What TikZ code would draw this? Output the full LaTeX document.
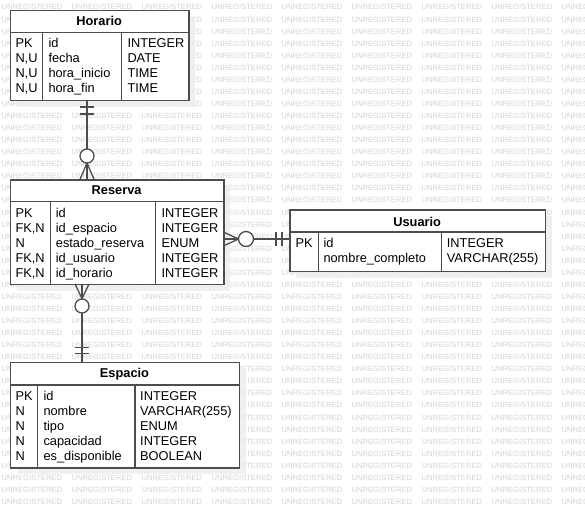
\documentclass[tikz,border=0pt]{standalone}
\usepackage{fontspec}
\setmainfont{Liberation Sans}
\definecolor{edge}{HTML}{4D4D4D}
\definecolor{mark}{HTML}{D2D2D2}
\definecolor{shade}{HTML}{EDEDED}
\newcommand\erdrows[6]{%
  \foreach \a/\b/\c [count=\i from 0] in {#6} {
    \node[cell] (#1k\i) at (#2, #5+15*\i) {\a};
    \node[cell] (#1n\i) at (#3, #5+15*\i) {\b};
    \node[cell] (#1t\i) at (#4, #5+15*\i) {\c};
  }}
\begin{document}
\begin{tikzpicture}[x=1pt,y=-1pt,
  tbl/.style={draw=edge, line width=1.3pt, fill=white, inner sep=0pt, anchor=north west},
  shadowbox/.style={fill=shade, opacity=0.85},
  cell/.style={anchor=base west, inner sep=0pt, font=\fontsize{12.8}{15}\selectfont},
  head/.style={anchor=base, inner sep=0pt, font=\fontsize{12.8}{15}\selectfont\bfseries},
  sep/.style={draw=edge, line width=1.3pt},
  conn/.style={draw=edge, line width=1.3pt},
  wm/.style={anchor=base west, inner sep=0pt, text=mark, font=\fontsize{7.6}{8}\selectfont}]
\useasboundingbox (0,0) rectangle (585,508);

% watermark grid
\begin{scope}
  \clip (0,0) rectangle (585,508);
  \foreach \j in {0,...,41} {
    \foreach \i in {0,...,8} {
      \node[wm] (wm-\i-\j) at (1.5+70*\i, 10+12.06*\j) {UNREGISTERED};
    }
  }
\end{scope}

% drop shadows
\fill[shadowbox] (17,17) rectangle (195.3,107);
\fill[shadowbox] (17,186.3) rectangle (230.3,291);
\fill[shadowbox] (296.3,216.3) rectangle (552,277.7);
\fill[shadowbox] (17,368.7) rectangle (246,474.3);

% ---------- Horario ----------
\node[tbl, minimum width=178.3pt, minimum height=90pt] (horario) at (10,10) {};
\draw[sep] (10,32.7) -- (188.3,32.7);
\draw[sep] (42.3,32.7) -- (42.3,100);
\draw[sep] (121.7,32.7) -- (121.7,100);
\node[head] (horario-title) at (99.15,25.8) {Horario};
\erdrows{hor}{15.3}{48.3}{127.3}{47.5}{PK/id/INTEGER, {N,U}/fecha/DATE, {N,U}/hora\_inicio/TIME, {N,U}/hora\_fin/TIME}

% ---------- Reserva ----------
\node[tbl, minimum width=213.3pt, minimum height=104.7pt] (reserva) at (10,179.3) {};
\draw[sep] (10,201.7) -- (223.3,201.7);
\draw[sep] (50.7,201.7) -- (50.7,284);
\draw[sep] (155.7,201.7) -- (155.7,284);
\node[head] (reserva-title) at (116.65,194.8) {Reserva};
\erdrows{res}{15.3}{55.7}{161.3}{217.5}{PK/id/INTEGER, {FK,N}/id\_espacio/INTEGER, N/estado\_reserva/ENUM, {FK,N}/id\_usuario/INTEGER, {FK,N}/id\_horario/INTEGER}

% ---------- Usuario ----------
\node[tbl, minimum width=255.7pt, minimum height=61.4pt] (usuario) at (289.3,209.3) {};
\draw[sep] (289.3,232) -- (545,232);
\draw[sep] (318.3,232) -- (318.3,270.7);
\draw[sep] (441.7,232) -- (441.7,270.7);
\node[head] (usuario-title) at (417.15,226.5) {Usuario};
\erdrows{usu}{295.3}{323.3}{446.7}{247.5}{PK/id/INTEGER, {}/nombre\_completo/VARCHAR(255)}

% ---------- Espacio ----------
\node[tbl, minimum width=229pt, minimum height=105.6pt] (espacio) at (10,361.7) {};
\draw[sep] (10,385) -- (239,385);
\draw[sep] (37.7,385) -- (37.7,467.3);
\draw[sep] (135,385) -- (135,467.3);
\node[head] (espacio-title) at (124.5,377.5) {Espacio};
\erdrows{esp}{15.3}{43.3}{140}{400.8}{PK/id/INTEGER, N/nombre/VARCHAR(255), N/tipo/ENUM, N/capacidad/INTEGER, N/es\_disponible/BOOLEAN}

% ---------- relationships ----------
\coordinate (hx) at (87,0);
\coordinate (ex) at (82,0);
\coordinate (uy) at (0,239);

% Horario (exactly one) -- Reserva (zero or many)
\draw[conn] (horario.south -| hx) -- (reserva.north -| hx);
\draw[conn] (80,107) -- (94,107) (80,114) -- (94,114);
\draw[conn] (80,179.3) -- (87,163) -- (94,179.3);
\draw[conn, fill=white] (87,156) circle[radius=7];

% Reserva (zero or many) -- Espacio (exactly one)
\draw[conn] (reserva.south -| ex) -- (espacio.north -| ex);
\draw[conn] (75,284) -- (82,298.5) -- (89,284);
\draw[conn, fill=white] (82,306) circle[radius=7];
\draw[conn] (75,347.5) -- (89,347.5) (75,353.5) -- (89,353.5);

% Reserva (zero or many) -- Usuario (exactly one)
\draw[conn] (reserva.east |- uy) -- (usuario.west |- uy);
\draw[conn] (223.3,232) -- (238.5,239) -- (223.3,246);
\draw[conn, fill=white] (246,239) circle[radius=7.5];
\draw[conn] (276,232) -- (276,246) (282,232) -- (282,246);
\end{tikzpicture}
\end{document}
